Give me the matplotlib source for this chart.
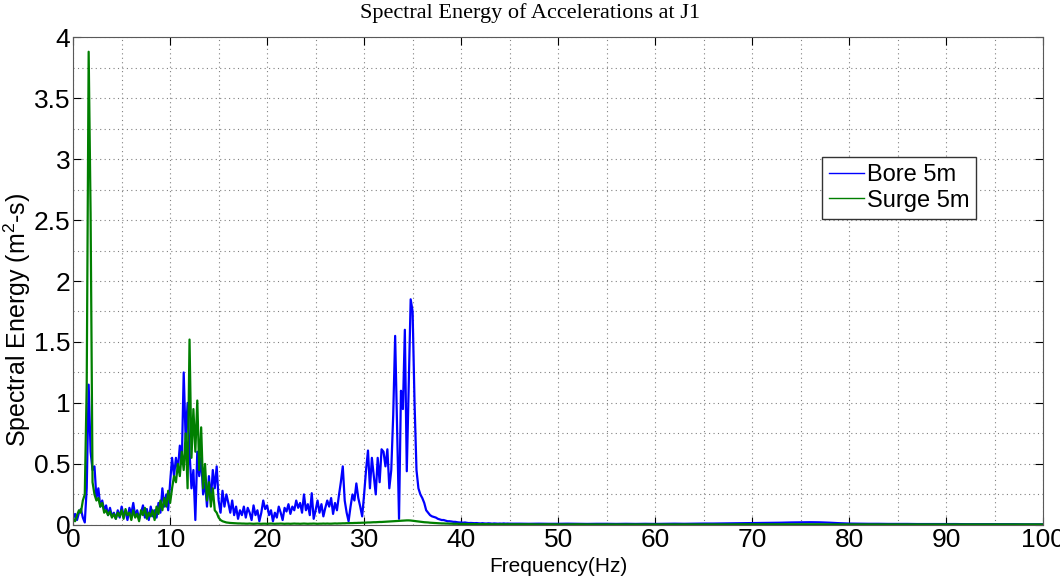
"""Spectral energy of accelerations at J1 (bore vs surge)"""

import numpy as np
from matplotlib import pyplot as plt
from matplotlib.ticker import FuncFormatter, MultipleLocator

# frequency grid: 0.2 Hz steps up to 45 Hz, then 1 Hz steps up to 100 Hz
freq_lo = np.round(np.arange(0, 45.01, 0.2), 1)
freq_hi = np.arange(46, 101, 1)

bore_lo = [
    0.05, 0.09, 0.04, 0.10, 0.13, 0.06, 0.02, 0.30, 1.15, 0.60,
    0.45, 0.48, 0.22, 0.30, 0.15, 0.20, 0.12, 0.16, 0.08, 0.14,
    0.07, 0.10, 0.05, 0.12, 0.06, 0.15, 0.08, 0.11, 0.04, 0.14,
    0.09, 0.18, 0.07, 0.12, 0.05, 0.10, 0.16, 0.06, 0.13, 0.04,
    0.15, 0.07, 0.12, 0.06, 0.18, 0.10, 0.30, 0.15, 0.25, 0.12,
    0.35, 0.55, 0.40, 0.55, 0.45, 0.65, 0.50, 1.25, 0.70, 1.00,
    0.60, 0.30, 0.45, 0.04, 0.60, 0.40, 0.55, 0.25, 0.35, 0.15,
    0.40, 0.20, 0.45, 0.30, 0.48, 0.20, 0.10, 0.28, 0.15, 0.25,
    0.18, 0.10, 0.20, 0.08, 0.15, 0.05, 0.12, 0.08, 0.15, 0.06,
    0.14, 0.10, 0.04, 0.16, 0.08, 0.12, 0.03, 0.10, 0.20, 0.13,
    0.16, 0.08, 0.12, 0.03, 0.10, 0.06, 0.15, 0.10, 0.04, 0.14,
    0.11, 0.17, 0.09, 0.15, 0.12, 0.20, 0.14, 0.18, 0.10, 0.25,
    0.12, 0.17, 0.08, 0.26, 0.05, 0.12, 0.20, 0.10, 0.17, 0.07,
    0.14, 0.20, 0.15, 0.22, 0.09, 0.18, 0.12, 0.24, 0.35, 0.48,
    0.20, 0.10, 0.03, 0.15, 0.25, 0.20, 0.34, 0.22, 0.15, 0.07,
    0.25, 0.45, 0.61, 0.30, 0.55, 0.40, 0.25, 0.55, 0.35, 0.62,
    0.60, 0.48, 0.62, 0.30, 0.45, 0.90, 1.55, 0.80, 0.05, 1.10,
    0.95, 1.60, 0.44, 1.15, 1.85, 1.75, 1.00, 0.45, 0.30, 0.25,
    0.22, 0.18, 0.12, 0.10, 0.08, 0.07, 0.065, 0.06, 0.05, 0.045,
    0.04, 0.04, 0.035, 0.03, 0.03, 0.028, 0.025, 0.025, 0.022, 0.02,
    0.02, 0.018, 0.02, 0.017, 0.015, 0.016, 0.015, 0.014, 0.015, 0.013,
    0.012, 0.014, 0.012, 0.011, 0.013, 0.012, 0.010, 0.012, 0.011, 0.010,
    0.011, 0.010, 0.012, 0.010, 0.011, 0.010,
]
bore_hi = [
    0.010, 0.009, 0.010, 0.009, 0.009, 0.010, 0.009, 0.008, 0.009, 0.009,
    0.008, 0.009, 0.008, 0.009, 0.008, 0.009, 0.010, 0.009, 0.010, 0.011,
    0.011, 0.012, 0.013, 0.014, 0.015, 0.016, 0.017, 0.018, 0.020, 0.021,
    0.022, 0.021, 0.018, 0.014, 0.011, 0.010, 0.009, 0.009, 0.008, 0.008,
    0.008, 0.007, 0.007, 0.007, 0.007, 0.007, 0.006, 0.006, 0.006, 0.006,
    0.006, 0.006, 0.005, 0.005, 0.005,
]

surge_lo = [
    0.05, 0.03, 0.08, 0.12, 0.10, 0.20, 0.25, 1.15, 3.88, 2.55,
    0.35, 0.25, 0.20, 0.22, 0.15, 0.18, 0.10, 0.12, 0.08, 0.11,
    0.06, 0.09, 0.05, 0.10, 0.07, 0.12, 0.05, 0.13, 0.08, 0.10,
    0.04, 0.12, 0.06, 0.09, 0.03, 0.12, 0.08, 0.14, 0.05, 0.10,
    0.07, 0.12, 0.04, 0.15, 0.09, 0.20, 0.12, 0.22, 0.15, 0.28,
    0.18, 0.30, 0.40, 0.35, 0.50, 0.40, 0.60, 0.45, 0.75, 0.30,
    1.52, 0.55, 0.95, 0.60, 1.02, 0.45, 0.80, 0.30, 0.50, 0.20,
    0.35, 0.15, 0.30, 0.12, 0.10, 0.06, 0.04, 0.03, 0.025, 0.02,
    0.018, 0.016, 0.015, 0.014, 0.013, 0.012, 0.012, 0.011, 0.011, 0.010,
    0.010, 0.011, 0.010, 0.009, 0.010, 0.011, 0.010, 0.009, 0.010, 0.010,
    0.009, 0.010, 0.011, 0.010, 0.009, 0.010, 0.010, 0.011, 0.010, 0.009,
    0.010, 0.010, 0.009, 0.010, 0.011, 0.010, 0.010, 0.009, 0.010, 0.011,
    0.010, 0.009, 0.010, 0.010, 0.011, 0.010, 0.009, 0.010, 0.010, 0.011,
    0.010, 0.011, 0.010, 0.010, 0.011, 0.012, 0.011, 0.012, 0.012, 0.013,
    0.013, 0.014, 0.014, 0.015, 0.015, 0.016, 0.016, 0.017, 0.017, 0.018,
    0.018, 0.019, 0.020, 0.020, 0.021, 0.022, 0.022, 0.023, 0.024, 0.024,
    0.025, 0.026, 0.027, 0.028, 0.029, 0.030, 0.031, 0.032, 0.033, 0.034,
    0.035, 0.036, 0.037, 0.037, 0.036, 0.034, 0.032, 0.030, 0.028, 0.026,
    0.024, 0.022, 0.021, 0.020, 0.018, 0.017, 0.016, 0.015, 0.014, 0.013,
    0.012, 0.012, 0.011, 0.011, 0.010, 0.010, 0.009, 0.009, 0.009, 0.008,
    0.008, 0.008, 0.008, 0.007, 0.007, 0.007, 0.007, 0.007, 0.006, 0.006,
    0.006, 0.006, 0.006, 0.006, 0.006, 0.005, 0.005, 0.005, 0.005, 0.005,
    0.005, 0.005, 0.005, 0.005, 0.005, 0.005,
]
surge_hi = [
    0.005, 0.005, 0.004, 0.005, 0.004, 0.004, 0.005, 0.004, 0.004, 0.004,
    0.004, 0.004, 0.004, 0.004, 0.004, 0.004, 0.004, 0.004, 0.004, 0.004,
    0.004, 0.004, 0.004, 0.005, 0.005, 0.005, 0.005, 0.005, 0.005, 0.005,
    0.005, 0.005, 0.004, 0.004, 0.004, 0.004, 0.004, 0.004, 0.004, 0.004,
    0.004, 0.004, 0.004, 0.004, 0.004, 0.004, 0.004, 0.004, 0.004, 0.004,
    0.004, 0.004, 0.004, 0.004, 0.004,
]

freq = np.concatenate([freq_lo, freq_hi])
bore = np.concatenate([bore_lo, bore_hi])
surge = np.concatenate([surge_lo, surge_hi])

plt.rcParams["font.family"] = ["Liberation Sans", "DejaVu Sans"]
plt.rcParams["mathtext.fontset"] = "custom"
plt.rcParams["mathtext.rm"] = "Liberation Sans"

fig = plt.figure(figsize=(10.6, 5.8), dpi=100)
ax = fig.add_axes([0.069, 0.095, 0.915, 0.841])

ax.plot(freq, bore, color="#0000ff", lw=1.6, label="Bore 5m")
ax.plot(freq, surge, color="#007f00", lw=1.6, label="Surge 5m")

ax.set_xlim(0, 100)
ax.set_ylim(0, 4)
ax.xaxis.set_major_locator(MultipleLocator(10))
ax.xaxis.set_minor_locator(MultipleLocator(5))
ax.yaxis.set_major_locator(MultipleLocator(0.5))
ax.yaxis.set_minor_locator(MultipleLocator(0.25))
ax.yaxis.set_major_formatter(FuncFormatter(lambda v, p: f"{v:g}"))
ax.grid(which="both", color="0.5", linestyle=(0, (1, 3)), lw=0.8)
ax.tick_params(which="major", direction="in", length=6, labelsize=19,
               top=True, right=True, pad=2)
ax.tick_params(which="minor", length=0)
for s in ax.spines.values():
    s.set_color("0.35")

ax.set_xlabel("Frequency(Hz)", fontsize=15, labelpad=4)
ax.set_ylabel(r"Spectral Energy (m$^\mathrm{2}$-s)", fontsize=18,
              va="top")
ax.yaxis.set_label_coords(-0.074, 0.42)
fig.text(0.5, 0.978, "Spectral Energy of Accelerations at J1",
         family="Liberation Serif", fontsize=16, ha="center", va="center")

leg = ax.legend(loc="upper left", bbox_to_anchor=(0.772, 0.754),
                borderaxespad=0, fontsize=17, handlelength=1.5,
                handletextpad=0.1, fancybox=False, framealpha=1,
                labelspacing=0.15, borderpad=0.3)
leg.get_frame().set_edgecolor("0.2")
for line in leg.get_lines():
    line.set_linewidth(1.0)

plt.savefig("out.png", dpi=100)
